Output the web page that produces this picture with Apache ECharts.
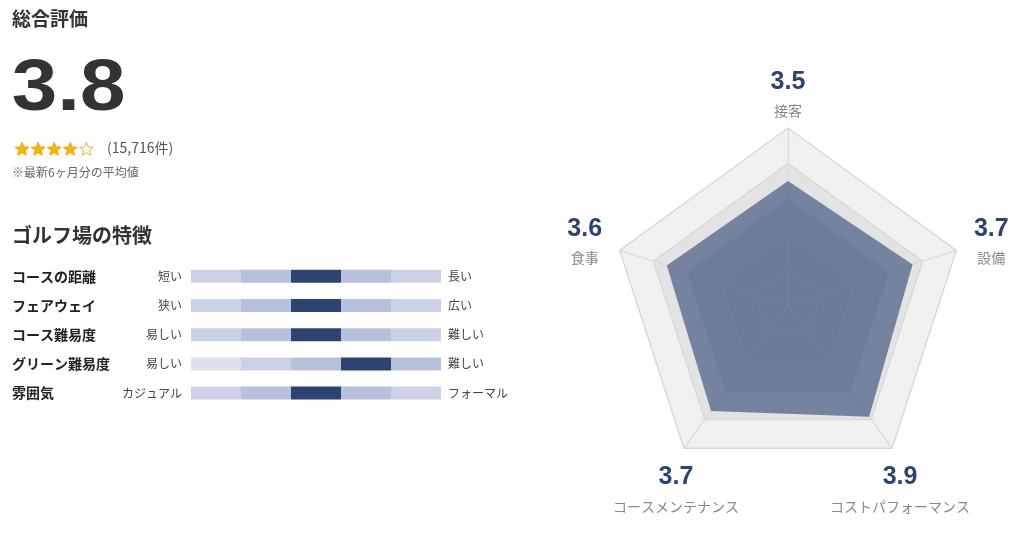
<!DOCTYPE html>
<html><head><meta charset="utf-8">
<script src="https://cdn.jsdelivr.net/npm/echarts@6/dist/echarts.min.js"></script>
<style>html,body{margin:0;padding:0;background:#fff}#c{width:1024px;height:552px}</style>
</head><body><div id="c"></div>
<script>
// ---- data ----
const overallScore = 3.8;
const starRating = 4;
const reviewCount = '15,716';
const features = ['コースの距離', 'フェアウェイ', 'コース難易度', 'グリーン難易度', '雰囲気'];
const leftLabels = ['短い', '狭い', '易しい', '易しい', 'カジュアル'];
const rightLabels = ['長い', '広い', '難しい', '難しい', 'フォーマル'];
const featurePositions = [3, 3, 3, 4, 3];
const segmentCount = 5;
const radarNames = ['接客', '食事', 'コースメンテナンス', 'コストパフォーマンス', '設備'];
const radarValues = [3.5, 3.6, 3.7, 3.9, 3.7];
const radarMax = 5;

// ---- styles ----
const JP = '"Noto Sans CJK JP", "Noto Sans", sans-serif';
const NUM = '"Liberation Sans", Arial, sans-serif';
const NAVY = '#2c4373';
const segColors = ['#2c4373', '#b8c1dc', '#ccd2e5', '#dde1ee', '#e6e9f2'];
const radarCenter = [788, 305];
const radarRadius = 177;

const chart = echarts.init(document.getElementById('c'));

const barSeries = [];
for (let s = 0; s < segmentCount; s++) {
  barSeries.push({
    type: 'bar', stack: 'seg', barWidth: 13, silent: true,
    data: features.map((f, i) => ({
      value: 1,
      itemStyle: { color: segColors[Math.abs(s + 1 - featurePositions[i])] }
    }))
  });
}

const graphics = [];
function txt(x, y, text, font, fill, align, valign, extra) {
  const el = {
    type: 'text', x: x, y: y, silent: true,
    style: { text: text, font: font, fill: fill, align: align || 'left', verticalAlign: valign || 'middle',
             textAlign: align || 'left', textVerticalAlign: valign || 'middle' }
  };
  if (extra) Object.assign(el, extra);
  graphics.push(el);
}
txt(12, 19, '総合評価', 'bold 19px ' + JP, '#333');
txt(11.7, 90.3, overallScore.toFixed(1), 'bold 73px ' + NUM, '#333', 'left', 'middle', { scaleX: 1.12 });
function starPoints(cx, cy, r, r0) {
  const pts = [];
  for (let k = 0; k < 10; k++) {
    const a = -Math.PI / 2 + k * Math.PI / 5;
    const rr = k % 2 === 0 ? r : r0;
    pts.push([cx + rr * Math.cos(a), cy + rr * Math.sin(a)]);
  }
  return pts;
}
for (let k = 0; k < 5; k++) {
  const filled = k < starRating;
  graphics.push({
    type: 'polygon', silent: true,
    shape: { points: starPoints(22 + k * 16.1, 149.5, 7.2, 3.1) },
    style: { fill: filled ? '#f6b900' : '#fff', stroke: filled ? '#e0a200' : '#e3ad1c', lineWidth: 0.9 }
  });
}
txt(107, 148, '(' + reviewCount + '件)', '14px ' + JP, '#555');
txt(12, 172, '※最新6ヶ月分の平均値', '12px ' + JP, '#666');
txt(12, 235, 'ゴルフ場の特徴', 'bold 20px ' + JP, '#333');

radarNames.forEach((name, i) => {
  const a = (90 + i * 360 / radarNames.length) * Math.PI / 180;
  const ca = Math.cos(a), sa = Math.sin(a);
  const vx = radarCenter[0] + radarRadius * ca;
  const vy = radarCenter[1] - radarRadius * sa;
  let lx, vY, nY;
  if (sa > 0.9) { lx = vx; vY = vy - 46; nY = vy - 17; }
  else if (Math.abs(ca) > 0.9) { lx = vx + Math.sign(ca) * 35; vY = vy - 21; nY = vy + 7; }
  else { lx = vx + Math.sign(ca) * 8; vY = vy + 29; nY = vy + 58; }
  txt(lx, vY, radarValues[i].toFixed(1), 'bold 25px ' + NUM, NAVY, 'center');
  txt(lx, nY, name, '14px ' + JP, '#888', 'center');
});

chart.setOption({
  animation: false,
  grid: { left: 191, width: 250, top: 261.7, height: 146 },
  xAxis: { type: 'value', min: 0, max: segmentCount, show: false },
  yAxis: [
    {
      type: 'category', data: features, inverse: true,
      axisLine: { show: false }, axisTick: { show: false },
      axisLabel: {
        margin: 9,
        formatter: (v, idx) => '{n|' + v + '}{l|' + leftLabels[idx] + '}',
        rich: {
          n: { width: 106, align: 'left', fontFamily: JP, fontSize: 14, fontWeight: 'bold', color: '#222' },
          l: { width: 64, align: 'right', fontFamily: JP, fontSize: 12, color: '#444' }
        }
      }
    },
    {
      type: 'category', data: rightLabels, inverse: true, position: 'right',
      axisLine: { show: false }, axisTick: { show: false },
      axisLabel: { margin: 7, fontFamily: JP, fontSize: 12, color: '#444' }
    }
  ],
  radar: {
    center: radarCenter, radius: radarRadius, splitNumber: 5, shape: 'polygon',
    startAngle: 90,
    indicator: radarNames.map(n => ({ name: n, max: radarMax, min: 0 })),
    axisName: { show: false },
    axisLine: { lineStyle: { color: '#dadada', width: 1.2 } },
    splitLine: { lineStyle: { color: '#dadada', width: 1.5 } },
    splitArea: { show: true, areaStyle: { color: ['#d0d0d0', '#d0d0d0', '#d1d1d1', '#e3e3e3', '#f1f1f1'] } }
  },
  series: barSeries.concat([{
    type: 'radar', silent: true, symbol: 'none',
    lineStyle: { width: 0 },
    areaStyle: { color: NAVY, opacity: 0.6 },
    data: [{ value: radarValues }]
  }]),
  graphic: graphics
});
</script></body></html>
